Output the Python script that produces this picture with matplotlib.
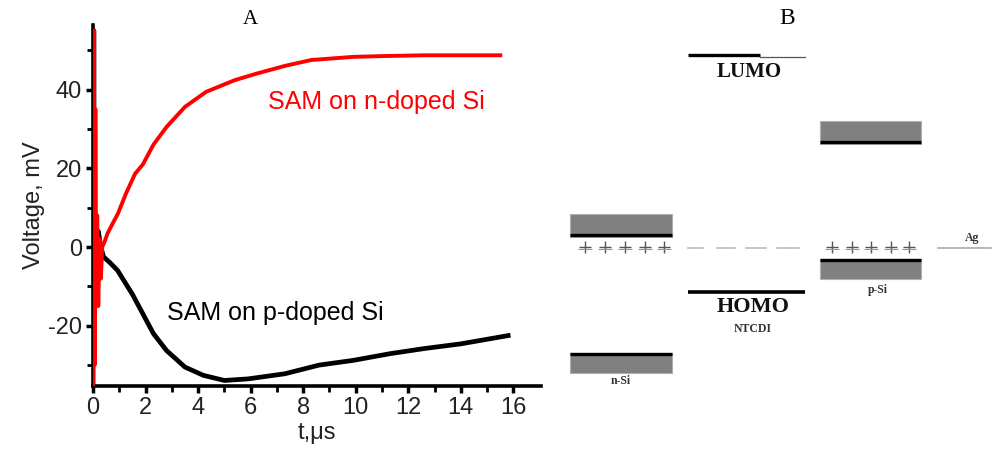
import numpy as np
import matplotlib
matplotlib.use('Agg')
import matplotlib.pyplot as plt
from matplotlib.patches import Rectangle

plt.rcParams['font.family'] = ['Liberation Sans', 'DejaVu Sans']
plt.rcParams['axes.unicode_minus'] = False

# panel A data ################################################################
t_n = [0.0, 0.03, 0.06, 0.09, 0.12, 0.16, 0.2, 0.25, 0.3, 0.35, 0.45, 0.55,
       0.75, 0.95, 1.25, 1.6, 1.9, 2.3, 2.8, 3.5, 4.3, 5.4, 6.2, 7.3, 8.3,
       9.9, 11.0, 12.6, 14.0, 15.5]
v_n = [-35, 55, -30, 35, -10, 8, -15, 2, -8, 0, 1.5, 3.4,
       6.0, 8.5, 13.5, 18.6, 21.0, 26.0, 30.5, 35.6, 39.4, 42.4, 44.0, 46.0, 47.5,
       48.3, 48.5, 48.7, 48.7, 48.7]

t_p = [0.0, 0.03, 0.06, 0.1, 0.15, 0.2, 0.3, 0.4, 0.65, 0.94, 1.2, 1.5, 1.9,
       2.3, 2.8, 3.5, 4.2, 5.0, 5.9, 7.3, 8.6, 9.9, 11.3, 12.6, 14.0, 15.8]
v_p = [-35, 55, -20, 8, 2, 4, 0, -2.5, -4.0, -6.0, -8.8, -12.0, -17.0,
       -22.0, -26.3, -30.5, -32.6, -33.9, -33.5, -32.2, -30.0, -28.8, -27.1,
       -25.8, -24.6, -22.5]

xticks = [0, 2, 4, 6, 8, 10, 12, 14, 16]
yticks = [-20, 0, 20, 40]

# panel B data: levels in picture units (y grows downward) ###################
band_x = [570, 672]          # n-Si column
pband_x = [820, 921]         # p-Si column
mol_x = [688, 805]           # NTCDI column
fermi_y = 248
n_cb = [214, 237]            # n-Si conduction band box (top, bottom)
n_vb = [353, 373]            # n-Si valence band box
p_cb = [121, 144]
p_vb = [259, 279]
lumo_y = 56
homo_y = 292
n_plus_x = [585, 605, 625, 645, 664]
p_plus_x = [832, 852, 871, 891, 909]
dash_x = [(688, 703), (717, 735), (746, 766), (777, 799)]
ag_x = [938, 991]
###############################################################################

W, H = 1000, 467
fig = plt.figure(figsize=(10, 4.67), dpi=100)

def fig_xy(px, py):
    # picture pixels -> figure fraction
    return px / W, 1 - py / H

ax = fig.add_axes([0.093, 0.1735, 0.448, 0.773])
ax.plot(t_p, v_p, color='black', lw=3.4, solid_joinstyle='round', zorder=3)
ax.plot(t_n, v_n, color='red', lw=2.8, solid_joinstyle='round', zorder=4)
ax.set_xlim(0, 17.05)
ax.set_ylim(-35.3, 56.4)
ax.set_xticks(xticks)
ax.set_yticks(yticks)
ax.set_xticks(np.arange(1, 17, 2), minor=True)
ax.set_yticks([-30, -10, 10, 30, 50], minor=True)
for s in ['top', 'right']:
    ax.spines[s].set_visible(False)
for s in ['left', 'bottom']:
    ax.spines[s].set_linewidth(2.6)
ax.tick_params(which='major', direction='out', length=5, width=2.5,
               labelsize=17, colors='black', pad=3)
ax.tick_params(which='minor', direction='out', length=4, width=2)
for lab in ax.get_xticklabels() + ax.get_yticklabels():
    lab.set_color('#222222')
ax.set_xlabel('t,\u03bcs', fontsize=17, color='#222222', labelpad=2)
ax.set_ylabel('Voltage, mV', fontsize=17, color='#222222', labelpad=2)

fig.text(*fig_xy(250, 20), 'A', family='Liberation Serif', fontsize=15,
         ha='center', va='center')
fig.text(*fig_xy(268, 102), 'SAM on n-doped Si', fontsize=18, color='red',
         ha='left', va='center')
fig.text(*fig_xy(167, 313), 'SAM on p-doped Si', fontsize=18, color='black',
         ha='left', va='center')

# panel B ###################################################################
bx = fig.add_axes([0.56, 0, 0.44, 1])
bx.set_xlim(560, 1000)
bx.set_ylim(467, 0)
bx.axis('off')

serif = 'Liberation Serif'
bx.text(787, 18, 'B', family=serif, fontsize=17, ha='center', va='center')

def band(xs, ys, line_y):
    bx.add_patch(Rectangle((xs[0], ys[0]), xs[1] - xs[0], ys[1] - ys[0],
                           facecolor='#808080', edgecolor='#b0b0b0', lw=0.8))
    bx.plot(xs, [line_y, line_y], color='black', lw=2.4, solid_capstyle='butt')

band(band_x, n_cb, n_cb[1] - 2)
band(band_x, n_vb, n_vb[0] + 1)
band(pband_x, p_cb, p_cb[1] - 2)
band(pband_x, p_vb, p_vb[0] + 1)

# NTCDI levels
bx.plot([mol_x[0], 760], [lumo_y - 1, lumo_y - 1], color='black', lw=2.4,
        solid_capstyle='butt')
bx.plot([760, mol_x[1]], [lumo_y + 1, lumo_y + 1], color='#555555', lw=0.9)
bx.plot(mol_x, [homo_y, homo_y], color='black', lw=2.6, solid_capstyle='butt')
for x0, x1 in dash_x:
    bx.plot([x0, x1], [fermi_y, fermi_y], color='#bbbbbb', lw=1.2)
bx.plot(ag_x, [fermi_y, fermi_y], color='#aaaaaa', lw=1.2)

for xs in (n_plus_x, p_plus_x):
    bx.plot(xs, [fermi_y - 1] * len(xs), ls='none', marker='+', ms=8,
            mew=1.0, color='#555555')
    bx.plot(xs, [fermi_y + 1] * len(xs), ls='none', marker='_', ms=10,
            mew=0.8, color='#999999')

bx.text(749, 72, 'LUMO', family=serif, weight='bold', fontsize=15,
        ha='center', va='center', color='#111111')
bx.text(753, 307, 'HOMO', family=serif, weight='bold', fontsize=16,
        ha='center', va='center', color='#111111')
bx.text(753, 329, 'NTCDI', family=serif, weight='bold', fontsize=8.5,
        ha='center', va='center', color='#333333')
bx.text(621, 381, 'n-Si', family=serif, weight='bold', fontsize=8.5,
        ha='center', va='center', color='#333333')
bx.text(878, 290, 'p-Si', family=serif, weight='bold', fontsize=8.5,
        ha='center', va='center', color='#333333')
bx.text(972, 238, 'Ag', family=serif, weight='bold', fontsize=8.5,
        ha='center', va='center', color='#333333')

fig.savefig('out.png', dpi=100)
